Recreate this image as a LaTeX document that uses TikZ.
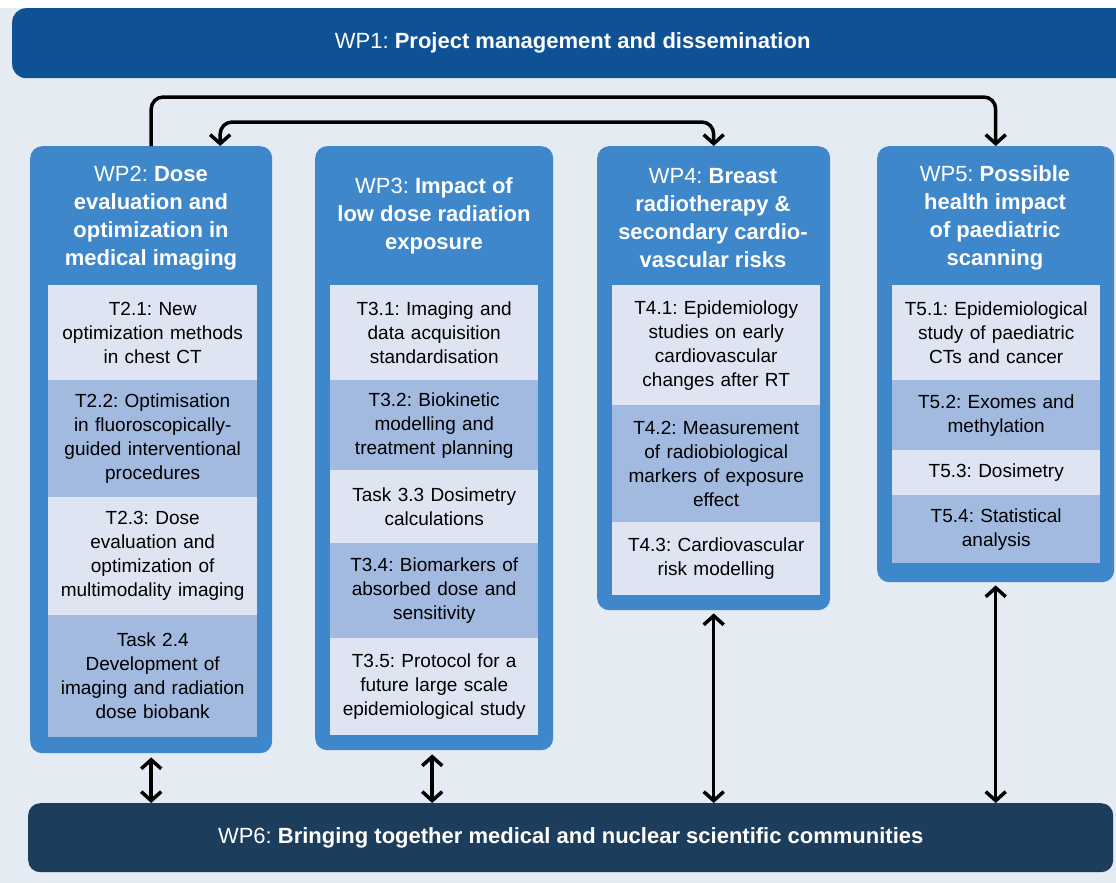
\documentclass[tikz,border=0pt]{standalone}
\usepackage{fontspec}
\setmainfont{Liberation Sans}
\usetikzlibrary{arrows.meta,calc}
\definecolor{bgc}{HTML}{E4EBF3}
\definecolor{wpone}{HTML}{0E5195}
\definecolor{wpsix}{HTML}{1D3D5C}
\definecolor{colc}{HTML}{3F87CB}
\definecolor{tlight}{HTML}{DEE4F1}
\definecolor{tdark}{HTML}{A2B9E0}
\begin{document}
\frenchspacing
\begin{tikzpicture}[x=1pt,y=-1pt,
  >={Straight Barb[length=9pt,width=20pt,line width=3.5pt]},
  banner/.style={rectangle,rounded corners=14pt,anchor=north west,inner sep=0pt,
    text=white,font=\fontsize{22}{26}\selectfont},
  colbox/.style={rectangle,fill=colc,rounded corners=12pt,anchor=north west,inner sep=0pt},
  wptitle/.style={text=white,align=center,inner sep=0pt,
    font=\fontsize{22}{28}\selectfont},
  task/.style={rectangle,anchor=north west,inner sep=0pt,align=center,text=black,
    font=\fontsize{19}{24}\selectfont},
  light/.style={task,fill=tlight},
  dark/.style={task,fill=tdark},
  link/.style={line width=3.5pt,draw=black,rounded corners=12pt}
]
\useasboundingbox (0,0) rectangle (1116,883);
\fill[bgc] (0,0) rectangle (1116,883);
\fill[white] (0,0) rectangle (1116,8);
\begin{scope}
\clip (0,0) rectangle (1116,883);
\node[banner,fill=wpone,minimum width=1121pt,minimum height=70pt] (wp1) at (12,8)
  {WP1: \textbf{Project management and dissemination}};
\end{scope}
\node[banner,fill=wpsix,rounded corners=12pt,minimum width=1085pt,minimum height=69pt] (wp6) at (28,803)
  {WP6: \textbf{Bringing together medical and nuclear scientific communities}};

% columns
\node[colbox,minimum width=242pt,minimum height=607pt] (wp2) at (30,146) {};
\node[colbox,minimum width=238pt,minimum height=604pt] (wp3) at (315,146) {};
\node[colbox,minimum width=233pt,minimum height=464pt] (wp4) at (597,146) {};
\node[colbox,minimum width=237pt,minimum height=436pt] (wp5) at (877,146) {};

\node[wptitle] (wp2t) at (151,218) {WP2: \textbf{Dose}\\\textbf{evaluation and}\\\textbf{optimization in}\\\textbf{medical imaging}};
\node[wptitle] (wp3t) at (434,216) {WP3: \textbf{Impact of}\\\textbf{low dose radiation}\\\textbf{exposure}};
\node[wptitle] (wp4t) at (713,218) {WP4: \textbf{Breast}\\\textbf{radiotherapy \&}\\\textbf{secondary cardio-}\\\textbf{vascular risks}};
\node[wptitle] (wp5t) at (995,218) {WP5: \textbf{Possible}\\\textbf{health impact}\\\textbf{of paediatric}\\\textbf{scanning}};

% WP2 tasks
\node[light,text width=209pt,minimum height=95pt] (t21) at (48,285) {T2.1: New\\optimization methods\\in chest CT};
\node[dark,text width=209pt,minimum height=117pt] (t22) at (48,380) {T2.2: Optimisation\\in fluoroscopically-\\guided interventional\\procedures};
\node[light,text width=209pt,minimum height=118pt] (t23) at (48,497) {T2.3: Dose\\evaluation and\\optimization of\\multimodality imaging};
\node[dark,text width=209pt,minimum height=122pt] (t24) at (48,615) {Task 2.4\\Development of\\imaging and radiation\\dose biobank};

% WP3 tasks
\node[light,text width=208pt,minimum height=95pt] (t31) at (330,285) {T3.1: Imaging and\\data acquisition\\standardisation};
\node[dark,text width=208pt,minimum height=90pt] (t32) at (330,380) {T3.2: Biokinetic\\modelling and\\treatment planning};
\node[light,text width=208pt,minimum height=73pt] (t33) at (330,470) {Task 3.3 Dosimetry\\calculations};
\node[dark,text width=208pt,minimum height=95pt] (t34) at (330,543) {T3.4: Biomarkers of\\absorbed dose and\\sensitivity};
\node[light,text width=208pt,minimum height=97pt] (t35) at (330,638) {T3.5: Protocol for a\\future large scale\\epidemiological study};

% WP4 tasks
\node[light,text width=208pt,minimum height=120pt] (t41) at (612,285) {T4.1: Epidemiology\\studies on early\\cardiovascular\\changes after RT};
\node[dark,text width=208pt,minimum height=117pt] (t42) at (612,405) {T4.2: Measurement\\of radiobiological\\markers of exposure\\effect};
\node[light,text width=208pt,minimum height=73pt] (t43) at (612,522) {T4.3: Cardiovascular\\risk modelling};

% WP5 tasks
\node[light,text width=208pt,minimum height=95pt] (t51) at (892,285) {T5.1: Epidemiological\\study of paediatric\\CTs and cancer};
\node[dark,text width=208pt,minimum height=70pt] (t52) at (892,380) {T5.2: Exomes and\\methylation};
\node[light,text width=208pt,minimum height=45pt] (t53) at (892,450) {T5.3: Dosimetry};
\node[dark,text width=208pt,minimum height=68pt] (t54) at (892,495) {T5.4: Statistical\\analysis};

% top connectors
\coordinate (lvla) at (0,97);
\coordinate (lvlb) at (0,122);
\coordinate (wp2a) at ([xshift=69pt]wp2.north);
\draw[link,->] (wp2.north) -- (wp2.north |- lvla) -- (wp5.north |- lvla) -- (wp5.north);
\draw[link,<->] (wp2a) -- (wp2a |- lvlb) -- (wp4.north |- lvlb) -- (wp4.north);

% bottom connectors
\draw[link,<->,shorten <=4pt] (wp2.south) -- (wp2.south |- wp6.north);
\draw[link,<->,shorten <=4pt] ([xshift=-2pt]wp3.south) -- ([xshift=-2pt]wp3.south |- wp6.north);
\draw[link,<->,shorten <=3pt] (wp4.south) -- (wp4.south |- wp6.north);
\draw[link,<->,shorten <=3pt] (wp5.south) -- (wp5.south |- wp6.north);
\end{tikzpicture}
\end{document}
